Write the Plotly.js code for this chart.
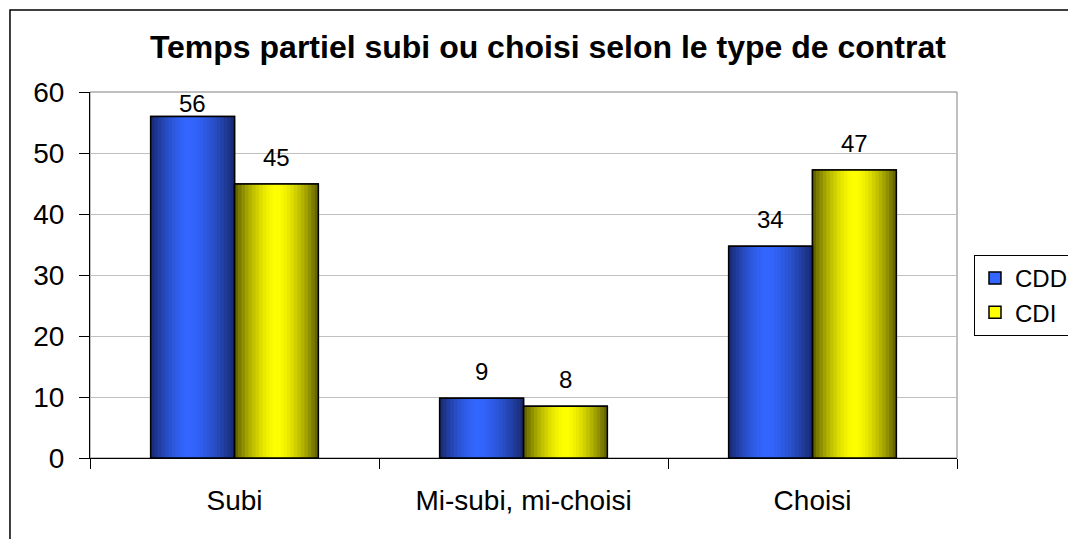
<!DOCTYPE html>
<html>
<head>
<meta charset="utf-8">
<script src="https://cdn.plot.ly/plotly-3.0.1.min.js"></script>
<style>
html,body{margin:0;padding:0;background:#fff;}
#chart{width:1068px;height:539px;}
</style>
</head>
<body>
<div id="chart"></div>
<script>
// ---- data ----
const categories = ['Subi', 'Mi-subi, mi-choisi', 'Choisi'];
const seriesNames = ['CDD', 'CDI'];
const cddValues = [56, 9.8, 34.7];
const cdiValues = [44.9, 8.5, 47.2];
const cddLabels = ['56', '9', '34'];
const cdiLabels = ['45', '8', '47'];
const yTickValues = [0, 10, 20, 30, 40, 50, 60];

// ---- styling ----
const FONT = 'Liberation Sans, Arial, sans-serif';
const BAR_W = 0.29;
const NSTRIP = 24;
const styles = [
  {values: cddValues, labels: cddLabels, offset: -BAR_W, dark: [24, 40, 110], bright: [51, 102, 255], peak: 0.45},
  {values: cdiValues, labels: cdiLabels, offset: 0, dark: [92, 92, 0], bright: [255, 255, 0], peak: 0.5}
];

function mix(a, b, k) {
  return 'rgb(' + a.map((v, i) => Math.round(v + (b[i] - v) * k)).join(',') + ')';
}

const traces = [];
// base traces (give legend swatches)
styles.forEach((s, si) => {
  traces.push({
    type: 'bar', name: seriesNames[si], x: categories, y: s.values,
    width: BAR_W, offset: s.offset,
    marker: {color: mix(s.dark, s.bright, 1), line: {color: '#000', width: 1.5}},
    legendgroup: 'g' + si, showlegend: true, hoverinfo: 'skip'
  });
});
// gradient strips
styles.forEach((s, si) => {
  const sw = BAR_W / NSTRIP;
  for (let i = 0; i < NSTRIP; i++) {
    const t = (i + 0.5) / NSTRIP;
    const d = t < s.peak ? (s.peak - t) / s.peak : (t - s.peak) / (1 - s.peak);
    const k = 1 - Math.pow(d, 1.6);
    const w = i < NSTRIP - 1 ? sw * 1.4 : sw;
    traces.push({
      type: 'bar', x: categories, y: s.values,
      width: w, offset: s.offset + i * sw,
      marker: {color: mix(s.dark, s.bright, k), line: {width: 0}},
      showlegend: false, hoverinfo: 'skip', legendgroup: 'g' + si
    });
  }
});
// outlines
styles.forEach((s, si) => {
  traces.push({
    type: 'bar', x: categories, y: s.values,
    width: BAR_W, offset: s.offset,
    marker: {color: 'rgba(0,0,0,0)', line: {color: '#000', width: 1.5}},
    showlegend: false, hoverinfo: 'skip', legendgroup: 'g' + si
  });
});

// value labels
const pxPerUnit = 366 / 60;
const annotations = [];
styles.forEach((s) => {
  s.values.forEach((v, i) => {
    annotations.push({
      x: i + s.offset + BAR_W / 2, y: v, xref: 'x', yref: 'y',
      text: s.labels[i], showarrow: false,
      yanchor: 'middle', yshift: Math.min(27, (60 - v) * pxPerUnit - 11),
      font: {family: FONT, size: 24, color: '#000'}
    });
  });
});

const layout = {
  width: 1068, height: 539,
  margin: {l: 90, r: 111, t: 92, b: 81, autoexpand: false},
  paper_bgcolor: '#fff', plot_bgcolor: '#fff',
  barmode: 'overlay',
  showlegend: true,
  title: {
    text: 'Temps partiel subi ou choisi selon le type de contrat',
    font: {family: FONT, size: 32, color: '#000', weight: 'bold'},
    xref: 'container', x: 0.513, xanchor: 'center',
    yref: 'container', y: 0.913, yanchor: 'middle'
  },
  xaxis: {
    type: 'category', categoryorder: 'array', categoryarray: categories,
    range: [-0.5, 2.5],
    showline: true, linecolor: '#000', linewidth: 1,
    ticks: 'outside', tickson: 'boundaries', ticklen: 10, tickcolor: '#000',
    showgrid: false,
    tickfont: {family: FONT, size: 28, color: '#000'},
    ticklabelstandoff: 17
  },
  yaxis: {
    range: [0, 60], tickvals: yTickValues,
    showline: true, linecolor: '#000', linewidth: 1,
    ticks: 'outside', ticklen: 10, tickcolor: '#000',
    showgrid: true, gridcolor: '#c0c0c0', gridwidth: 1,
    zeroline: false,
    tickfont: {family: FONT, size: 28, color: '#000'},
    ticklabelstandoff: 9
  },
  legend: {
    x: 1.0196, y: 0.5546, xanchor: 'left', yanchor: 'top',
    xref: 'paper', yref: 'paper',
    bordercolor: '#000', borderwidth: 1, bgcolor: '#fff',
    font: {family: FONT, size: 24, color: '#000'},
    tracegroupgap: 10, traceorder: 'normal'
  },
  annotations: annotations,
  shapes: [
    {type: 'rect', xref: 'paper', yref: 'paper', x0: 0, x1: 1, y0: 0, y1: 1,
     line: {color: '#808080', width: 1}, layer: 'below'},
    {type: 'rect', xref: 'paper', yref: 'paper', x0: -0.0923, x1: 1.4, y0: -0.4, y1: 1.224,
     line: {color: '#000', width: 1.5}, fillcolor: 'rgba(0,0,0,0)', layer: 'below'}
  ]
};

Plotly.newPlot('chart', traces, layout, {displayModeBar: false, staticPlot: true});
</script>
</body>
</html>
